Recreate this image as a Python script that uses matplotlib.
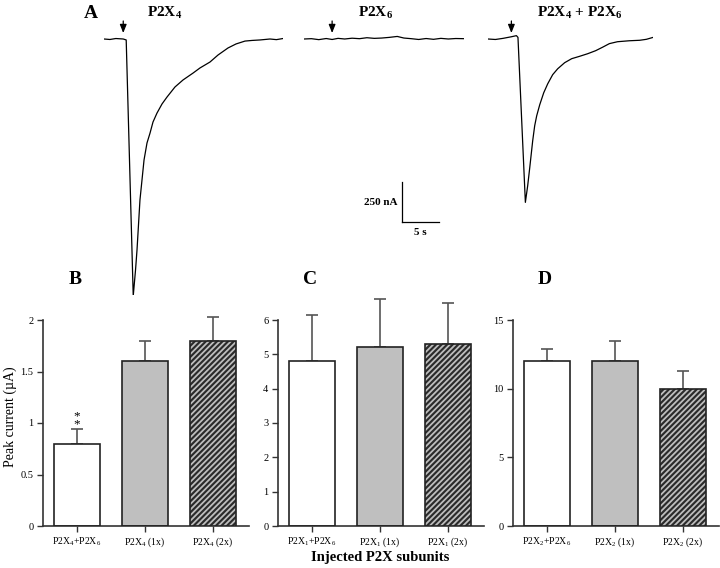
import matplotlib
matplotlib.use("Agg")
import matplotlib.pyplot as plt
from matplotlib.ticker import FixedLocator

plt.rcParams.update({
    "font.family": ["Liberation Serif", "DejaVu Serif"],
    "mathtext.fontset": "custom",
    "mathtext.rm": "Liberation Serif",
    "mathtext.bf": "Liberation Serif:bold",
    "mathtext.it": "Liberation Serif:italic",
    "mathtext.default": "regular",
    "hatch.linewidth": 1.3,
})

# ---------------- Data: current traces (time s, current nA) ----------------
t_p2x4 = [0, 0.8, 1.6, 2.6, 3.0, 3.95, 4.26, 4.46, 4.86, 5.41, 5.81, 6.22, 6.62,
          7.16, 7.84, 8.51, 9.59, 10.68, 12.03, 12.97, 14.32, 15.41, 16.76, 17.84,
          19.05, 20.0, 21.08, 22.43, 23.3, 24.19]
i_p2x4 = [0, -3, 3, 0, -6, -1606, -1444, -1319, -1006, -756, -650, -588, -519,
          -463, -406, -363, -300, -256, -213, -181, -144, -100, -56, -31,
          -13, -9, -6, 0, -4, 3]

t_p2x6 = [0, 1.0, 2.0, 3.0, 3.8, 4.6, 5.5, 6.5, 7.5, 8.5, 9.5, 10.5, 11.5, 12.6,
          13.5, 14.5, 15.5, 16.5, 17.5, 18.5, 19.5, 20.5, 21.6]
i_p2x6 = [0, 2, -4, 3, -3, 4, 0, 5, 2, 8, 4, 6, 10, 16, 6, 2, -3, 3, -2, 4, 0, 3, 2]

t_p2x46 = [0, 1.0, 2.03, 3.16, 3.84, 4.05, 5.05, 5.36, 5.64, 6.04, 6.31, 6.58, 6.99,
           7.53, 8.07, 8.74, 9.42, 10.36, 11.31, 12.39, 13.47, 14.55, 15.5, 16.4,
           17.5, 19.1, 20.5, 21.4, 22.3]
i_p2x46 = [0, -3, 4, 14, 21, 10, -1021, -918, -805, -636, -542, -480, -411,
           -336, -280, -223, -186, -148, -123, -108, -92, -73, -51, -29,
           -17, -11, -8, -2, 10]

trace_titles = [r"$\mathbf{P2X_4}$", r"$\mathbf{P2X_6}$", r"$\mathbf{P2X_4}$ + $\mathbf{P2X_6}$"]
arrow_times = [2.6, 3.8, 3.16]
scale_na = 250
scale_s = 5

# ---------------- Data: bar panels ----------------
labels_B = [r"P2X$_4$+P2X$_6$", r"P2X$_4$ (1x)", r"P2X$_4$ (2x)"]
means_B = [0.8, 1.6, 1.8]
errs_B = [0.14, 0.2, 0.23]
yticks_B = [0, 0.5, 1, 1.5, 2]

labels_C = [r"P2X$_1$+P2X$_6$", r"P2X$_1$ (1x)", r"P2X$_1$ (2x)"]
means_C = [4.8, 5.2, 5.3]
errs_C = [1.35, 1.4, 1.2]
yticks_C = [0, 1, 2, 3, 4, 5, 6]

labels_D = [r"P2X$_2$+P2X$_6$", r"P2X$_2$ (1x)", r"P2X$_2$ (2x)"]
means_D = [12, 12, 10]
errs_D = [0.9, 1.5, 1.3]
yticks_D = [0, 5, 10, 15]

W, H = 720, 568
fig = plt.figure(figsize=(W / 100, H / 100), dpi=100)


def px_axes(left, top, width, height):
    return fig.add_axes([left / W, 1 - (top + height) / H, width / W, height / H])


# ---------------- Traces ----------------
PX_PER_S = 7.4
PX_PER_NA = 40 / 250.0
trace_top, trace_h, base_px = 0, 300, 39
ylim_tr = (-(trace_h - base_px) / PX_PER_NA, base_px / PX_PER_NA)

traces = [(t_p2x4, i_p2x4, 104), (t_p2x6, i_p2x6, 304), (t_p2x46, i_p2x46, 488)]
title_x = [165, 376, 580]
trace_axes = []
for k, (tt, ii, left) in enumerate(traces):
    span = tt[-1]
    ax = px_axes(left, trace_top, span * PX_PER_S, trace_h)
    ax.plot(tt, ii, color="black", lw=0.9, solid_joinstyle="round")
    ax.set_xlim(0, span)
    ax.set_ylim(*ylim_tr)
    ax.axis("off")
    ax.annotate("", xy=(arrow_times[k], 20), xytext=(arrow_times[k], 130),
                arrowprops=dict(arrowstyle="-|>,head_length=0.5,head_width=0.2",
                                color="black", lw=0.9), annotation_clip=False)
    fig.text(title_x[k] / W, 1 - 13 / H, trace_titles[k], ha="center", va="center",
             fontsize=11, fontweight="bold")
    trace_axes.append(ax)

# scale bar on the middle trace axes
ax2 = trace_axes[1]
x0, y0 = 13.2, -1144
ax2.plot([x0, x0], [y0, y0 + scale_na], color="black", lw=0.9, clip_on=False)
ax2.plot([x0, x0 + scale_s], [y0, y0], color="black", lw=0.9, clip_on=False)
ax2.text(x0 - 0.5, y0 + scale_na * 0.5, f"{scale_na} nA", ha="right", va="center",
         fontsize=8, fontweight="bold")
ax2.text(x0 + scale_s / 2, y0 - 40, f"{scale_s} s", ha="center", va="top",
         fontsize=8, fontweight="bold")

fig.text(91 / W, 1 - 14 / H, "A", ha="center", va="center", fontsize=14, fontweight="bold")

# ---------------- Bar panels ----------------
face_colors = ["white", "#bfbfbf", "#2a2a2a"]
panels = [
    ("B", labels_B, means_B, errs_B, yticks_B, 43, 75),
    ("C", labels_C, means_C, errs_C, yticks_C, 278, 310),
    ("D", labels_D, means_D, errs_D, yticks_D, 513, 545),
]
bar_bottom_px = 526
bar_h_px = 206 * 1.12
for letter, labs, means, errs, yt, left, lx in panels:
    ax = px_axes(left, bar_bottom_px - bar_h_px, 206, bar_h_px)
    xs = list(range(len(means)))
    ax.errorbar(xs, means, yerr=[[0] * len(errs), errs], fmt="none",
                ecolor="#555555", elinewidth=1.2, capsize=4, capthick=1.2, zorder=1)
    ax.bar(xs, means, width=0.69, color=face_colors, edgecolor="none", zorder=2)
    ax.bar(xs[2:], means[2:], width=0.69, color="none", edgecolor="#bdbdbd",
           hatch="//////", linewidth=0, zorder=3)
    ax.bar(xs, means, width=0.69, color="none", edgecolor="#222222", linewidth=1.2, zorder=4)
    ax.set_xlim(-0.5, 2.53)
    ax.set_ylim(0, yt[-1] * 1.12)
    for s in ["top", "right"]:
        ax.spines[s].set_visible(False)
    for s in ["left", "bottom"]:
        ax.spines[s].set_linewidth(1.2)
        ax.spines[s].set_color("#333333")
    ax.spines["left"].set_bounds(0, yt[-1])
    ax.yaxis.set_major_locator(FixedLocator(yt))
    ax.set_yticklabels([f"{v:g}" for v in yt], fontsize=7.5)
    ax.set_xticks(xs)
    ax.set_xticklabels(labs, fontsize=7)
    ax.tick_params(axis="both", direction="out", length=4, width=1.0, color="#333333", pad=3)
    fig.text(lx / W, 1 - 279 / H, letter, ha="center", va="center", fontsize=14,
             fontweight="bold")
    if letter == "B":
        ax.text(xs[0], 0.955, "*\n*", ha="center", va="baseline", fontsize=9.5,
                linespacing=0.6)

fig.text(10 / W, 1 - 417 / H, "Peak current (\u00b5A)", rotation=90, ha="center",
         va="center", fontsize=10)
fig.text(380 / W, 1 - 558 / H, "Injected P2X subunits", ha="center", va="center",
         fontsize=10.5, fontweight="bold")

fig.savefig("out.png", dpi=100)
